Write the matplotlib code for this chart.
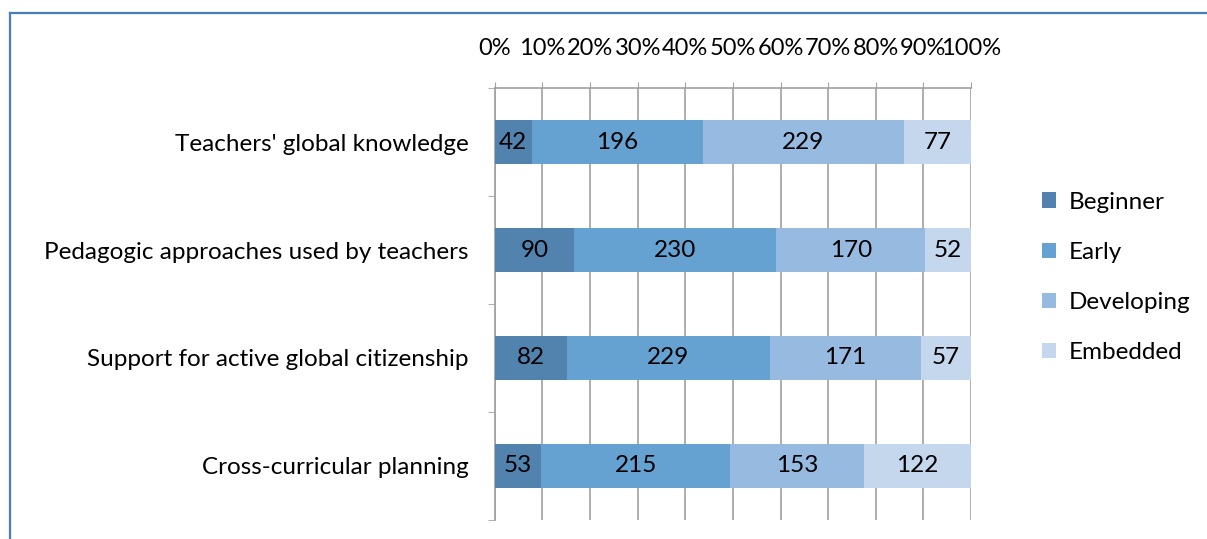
import numpy as np
import matplotlib
matplotlib.use("Agg")
import matplotlib.pyplot as plt
from matplotlib.lines import Line2D

plt.rcParams['font.family'] = ['Lato', 'DejaVu Sans']

# data
categories = ["Teachers' global knowledge",
              "Pedagogic approaches used by teachers",
              "Support for active global citizenship",
              "Cross-curricular planning"]
levels = ["Beginner", "Early", "Developing", "Embedded"]
beginner = [42, 90, 82, 53]
early = [196, 230, 229, 215]
developing = [229, 170, 171, 153]
embedded = [77, 52, 57, 122]
colors = ["#5283AF", "#65A2D1", "#96BAE0", "#C4D7EC"]

counts = np.array([beginner, early, developing, embedded], dtype=float)
shares = counts / counts.sum(axis=0) * 100

fs = 17.5

fig = plt.figure(figsize=(12.07, 5.39), dpi=100)
ax = fig.add_axes([0.410, 0.0353, 0.3945, 0.8014])

y = np.arange(len(categories))
left = np.zeros(len(categories))
for i in range(len(levels)):
    ax.barh(y, shares[i], left=left, height=0.41, color=colors[i],
            label=levels[i], zorder=3)
    for j in range(len(categories)):
        ax.text(left[j] + shares[i][j] / 2, y[j], str(int(counts[i][j])),
                ha="center", va="center", fontsize=fs, color="black", zorder=4)
    left = left + shares[i]

ax.set_xlim(0, 100)
ax.set_ylim(len(categories) - 0.5, -0.5)
ax.set_xticks(np.arange(0, 101, 10))
ax.set_xticklabels([f"{v}%" for v in range(0, 101, 10)], fontsize=17)
ax.xaxis.tick_top()
ax.tick_params(axis="x", length=4, color="#A0A0A0", pad=17)
ax.grid(axis="x", color="#A0A0A0", linewidth=1.2, zorder=0)

ax.set_yticks(y)
ax.set_yticklabels(categories, fontsize=fs)
ax.set_yticks(np.arange(-0.5, len(categories), 1), minor=True)
ax.tick_params(axis="y", which="major", length=0, pad=19)
ax.tick_params(axis="y", which="minor", length=5, color="#A0A0A0")

for s in ["right", "bottom"]:
    ax.spines[s].set_visible(False)
for s in ["top", "left"]:
    ax.spines[s].set_color("#A0A0A0")
    ax.spines[s].set_linewidth(1.2)

leg = fig.legend(loc="upper left", bbox_to_anchor=(0.845, 0.685), frameon=False,
                 fontsize=fs, handlelength=0.6, handleheight=0.6,
                 handletextpad=0.5, labelspacing=1.2)

# frame lines around the picture
fig.add_artist(Line2D([0.0079, 1.0], [0.976, 0.976], color="#4A7EBB", linewidth=1.6))
fig.add_artist(Line2D([0.0079, 0.0079], [0.0, 0.976], color="#4A7EBB", linewidth=1.6))

fig.savefig("out.png", dpi=100)
